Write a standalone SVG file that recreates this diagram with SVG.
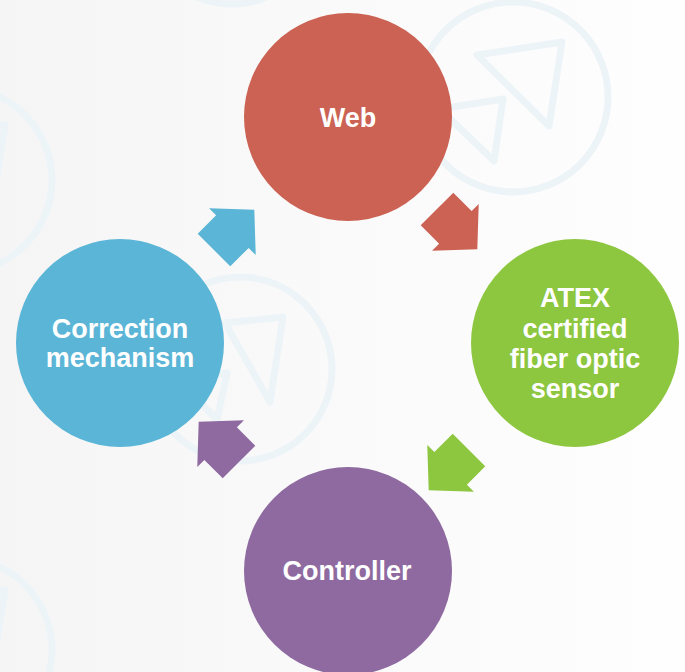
<svg xmlns="http://www.w3.org/2000/svg" width="685" height="672" viewBox="0 0 685 672">
<defs>
<linearGradient id="bg" x1="0" y1="0" x2="1" y2="0">
<stop offset="0" stop-color="#f5f5f5"/>
<stop offset="0.4" stop-color="#f9f9f9"/>
<stop offset="1" stop-color="#fefefe"/>
</linearGradient>
<polygon id="arr" points="0,-23 26,-23 26,-33 57,0 26,33 26,23 0,23"/>
</defs>
<style>
.deco{fill:none;stroke:#edf4f8;stroke-width:7;stroke-linejoin:round}
.lbl{font-family:"Liberation Sans",Arial,sans-serif;font-weight:bold;font-size:27px;fill:#ffffff;text-anchor:middle}
</style>
<rect width="685" height="672" fill="url(#bg)"/>
<g id="background">
<circle class="deco" cx="513" cy="97" r="95"/>
<polygon class="deco" points="477,55 562,42 549,126"/>
<polygon class="deco" points="440,109 503,99 494,161"/>
<circle class="deco" cx="240" cy="369" r="92"/>
<polygon class="deco" points="225,323 283,317 270,402"/>
<polygon class="deco" points="180,380 227,373 217,420"/>
<circle class="deco" cx="-40" cy="180" r="92"/>
<polygon class="deco" points="-60,130 5,125 -5,190"/>
<circle class="deco" cx="-40" cy="650" r="92"/>
<polygon class="deco" points="-60,595 5,590 -5,655"/>
<circle class="deco" cx="232" cy="-88" r="92"/>
</g>
<g id="connectors">
<use href="#arr" fill="#5bb5d6" transform="translate(214,250) rotate(-45)"/>
<use href="#arr" fill="#cb6253" transform="translate(437,209) rotate(45)"/>
<use href="#arr" fill="#8dc63f" transform="translate(469,450) rotate(135)"/>
<use href="#arr" fill="#8e6aa0" transform="translate(239,462) rotate(-135)"/>
</g>
<g id="web">
<circle cx="348" cy="117" r="104" fill="#cb6253"/>
<text class="lbl" x="348" y="127">Web</text>
</g>
<g id="sensor">
<circle cx="575" cy="343" r="104" fill="#8dc63f"/>
<text class="lbl" x="575" y="307">ATEX</text>
<text class="lbl" x="575" y="338">certified</text>
<text class="lbl" x="575" y="368">fiber optic</text>
<text class="lbl" x="575" y="398">sensor</text>
</g>
<g id="controller">
<circle cx="348" cy="571" r="104" fill="#8e6aa0"/>
<text class="lbl" x="347" y="580">Controller</text>
</g>
<g id="correction">
<circle cx="120" cy="343" r="104" fill="#5bb5d6"/>
<text class="lbl" x="120" y="338">Correction</text>
<text class="lbl" x="120" y="367">mechanism</text>
</g>
</svg>
